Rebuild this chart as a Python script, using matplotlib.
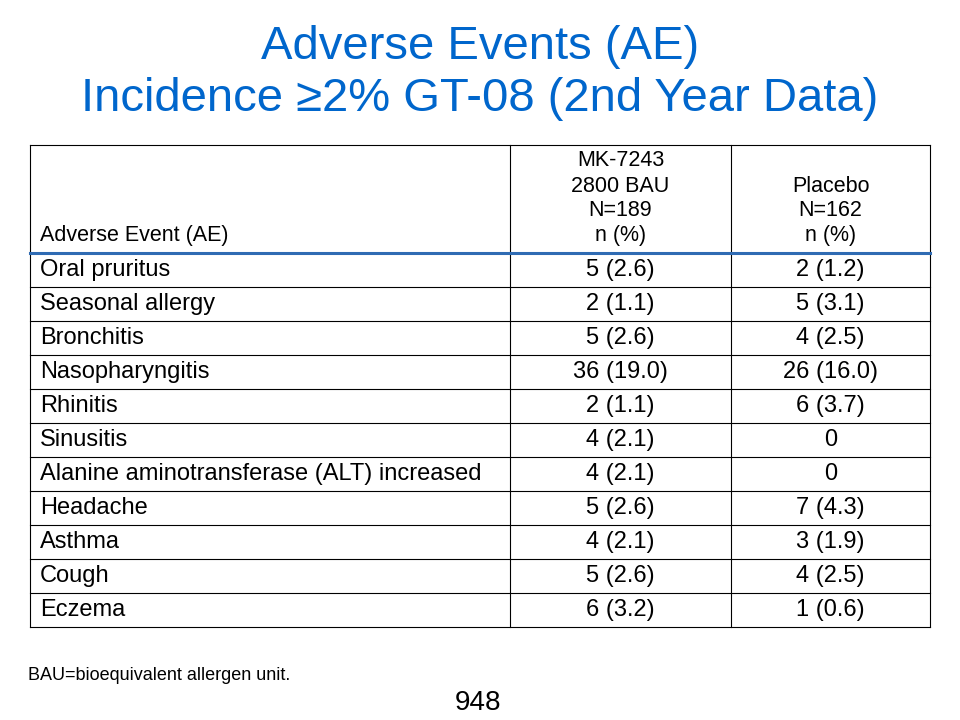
import matplotlib
matplotlib.use("Agg")
import matplotlib.pyplot as plt

plt.rcParams['font.family'] = ['Liberation Sans', 'DejaVu Sans']

title_lines = ["Adverse Events (AE)", "Incidence \u22652% GT-08 (2nd Year Data)"]
col0_header = "Adverse Event (AE)"
col1_header = ["MK-7243", "2800 BAU", "N=189", "n (%)"]
col2_header = ["Placebo", "N=162", "n (%)"]
events = ["Oral pruritus", "Seasonal allergy", "Bronchitis", "Nasopharyngitis", "Rhinitis",
          "Sinusitis", "Alanine aminotransferase (ALT) increased", "Headache", "Asthma",
          "Cough", "Eczema"]
mk_vals = ["5 (2.6)", "2 (1.1)", "5 (2.6)", "36 (19.0)", "2 (1.1)", "4 (2.1)", "4 (2.1)",
           "5 (2.6)", "4 (2.1)", "5 (2.6)", "6 (3.2)"]
pl_vals = ["2 (1.2)", "5 (3.1)", "4 (2.5)", "26 (16.0)", "6 (3.7)", "0", "0",
           "7 (4.3)", "3 (1.9)", "4 (2.5)", "1 (0.6)"]
footnote = "BAU=bioequivalent allergen unit."
page = "948"

blue = "#0066CC"
fig = plt.figure(figsize=(9.6, 7.2), dpi=100)
ax = fig.add_axes([0, 0, 1, 1])
ax.set_xlim(0, 960); ax.set_ylim(720, 0); ax.axis('off')

ax.text(480, 47, title_lines[0], ha='center', va='center', fontsize=34, color=blue)
ax.text(480, 99, title_lines[1], ha='center', va='center', fontsize=34, color=blue)

L, C1, C2, R = 30, 510, 731, 930
top, hb = 145, 253
rh = 34.0
n = len(events)
bottom = hb + rh * n
lw = 0.8
ax.plot([L, R], [top, top], color='black', lw=lw)
ax.plot([L, R], [bottom, bottom], color='black', lw=lw)
for x in (L, C1, C2, R):
    ax.plot([x, x], [top, bottom], color='black', lw=lw)
for i in range(1, n):
    y = hb + rh * i
    ax.plot([L, R], [y, y], color='black', lw=lw)
ax.plot([L, R], [hb, hb], color='#2F6BB3', lw=2.2)

fs = 17
hfs = 15.5
ax.text(40, 236, col0_header, ha='left', va='center', fontsize=hfs)
for j, s in enumerate(col1_header):
    ax.text((C1 + C2) / 2, 161 + 25 * j, s, ha='center', va='center', fontsize=hfs)
for j, s in enumerate(col2_header):
    ax.text((C2 + R) / 2, 186 + 25 * j, s, ha='center', va='center', fontsize=hfs)

for i in range(n):
    y = hb + rh * (i + 0.5)
    ax.text(40, y, events[i], ha='left', va='center', fontsize=fs)
    ax.text((C1 + C2) / 2, y, mk_vals[i], ha='center', va='center', fontsize=fs)
    ax.text((C2 + R) / 2, y, pl_vals[i], ha='center', va='center', fontsize=fs)

ax.text(28, 676, footnote, ha='left', va='center', fontsize=13)
ax.text(478, 703, page, ha='center', va='center', fontsize=20)

fig.savefig("out.png", dpi=100)
